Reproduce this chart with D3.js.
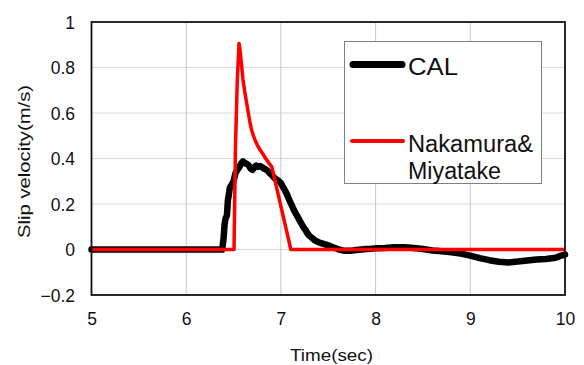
<!DOCTYPE html>
<html>
<head>
<meta charset="utf-8">
<script src="https://cdn.jsdelivr.net/npm/d3@7"></script>
<style>
  html, body { margin: 0; padding: 0; background: #fff; }
  svg { display: block; font-family: "Liberation Sans", Arial, sans-serif; }
</style>
</head>
<body>
<svg id="chart" width="584" height="365"></svg>
<script>
// Time axis ticks (sec) and slip-velocity ticks (m/s)
const xTicks = [5, 6, 7, 8, 9, 10];
const yTicks = [-0.2, 0, 0.2, 0.4, 0.6, 0.8, 1];

// Computed slip velocity (CAL): [time, velocity]
const calSeries = [
  [5.0, 0], [6.38, 0], [6.395, 0.05], [6.405, 0.11], [6.415, 0.135], [6.43, 0.15],
  [6.44, 0.215], [6.45, 0.24], [6.46, 0.27], [6.48, 0.285], [6.50, 0.30],
  [6.52, 0.335], [6.54, 0.35], [6.56, 0.362], [6.58, 0.378], [6.60, 0.387],
  [6.62, 0.38], [6.64, 0.376], [6.66, 0.37], [6.68, 0.356], [6.70, 0.35],
  [6.72, 0.362], [6.74, 0.369], [6.76, 0.363], [6.78, 0.367], [6.80, 0.362],
  [6.82, 0.356], [6.84, 0.352], [6.86, 0.346], [6.88, 0.336], [6.90, 0.329],
  [6.92, 0.32], [6.94, 0.311], [6.96, 0.306], [6.98, 0.30], [7.00, 0.292],
  [7.02, 0.276], [7.04, 0.262], [7.06, 0.246], [7.08, 0.226], [7.10, 0.207],
  [7.12, 0.19], [7.14, 0.171], [7.16, 0.156], [7.18, 0.141], [7.20, 0.126],
  [7.22, 0.111], [7.24, 0.096], [7.26, 0.086], [7.28, 0.071], [7.30, 0.061],
  [7.33, 0.05], [7.36, 0.04], [7.40, 0.031], [7.45, 0.025], [7.50, 0.018],
  [7.55, 0.01], [7.60, 0.002], [7.65, -0.004], [7.70, -0.006], [7.75, -0.005],
  [7.80, -0.002], [7.85, 0.0], [7.90, 0.002], [7.95, 0.003], [8.0, 0.005],
  [8.1, 0.007], [8.2, 0.01], [8.3, 0.01], [8.4, 0.007], [8.5, 0.002],
  [8.6, -0.004], [8.7, -0.008], [8.8, -0.012], [8.9, -0.018], [9.0, -0.027],
  [9.1, -0.038], [9.2, -0.047], [9.3, -0.054], [9.4, -0.057], [9.5, -0.053],
  [9.6, -0.048], [9.7, -0.044], [9.8, -0.042], [9.9, -0.036], [9.95, -0.028],
  [10.0, -0.022]
];

// Nakamura & Miyatake slip-velocity function: [time, velocity]
const nmSeries = [
  [5.0, 0], [6.505, 0], [6.52, 0.45], [6.54, 0.75], [6.558, 0.906],
  [6.565, 0.89], [6.575, 0.85], [6.586, 0.804], [6.60, 0.745], [6.621, 0.687],
  [6.64, 0.64], [6.656, 0.60], [6.673, 0.56], [6.69, 0.526], [6.71, 0.50],
  [6.73, 0.478], [6.75, 0.46], [6.78, 0.438], [6.81, 0.42], [6.84, 0.40],
  [6.87, 0.382], [6.905, 0.362], [7.105, 0], [10.0, 0]
];

const seriesNames = ["CAL", "Nakamura&", "Miyatake"];
const xTitle = "Time(sec)";
const yTitle = "Slip velocity(m/s)";

const svg = d3.select("#chart");
const plot = { left: 91.5, right: 565, top: 22, bottom: 295 };

const x = d3.scaleLinear().domain([5, 10]).range([plot.left, plot.right]);
const y = d3.scaleLinear().domain([-0.2, 1]).range([plot.bottom, plot.top]);

// Gridlines
svg.append("g").selectAll("line")
  .data(yTicks.filter(d => d > -0.2 && d < 1))
  .join("line")
  .attr("x1", plot.left).attr("x2", plot.right)
  .attr("y1", d => y(d)).attr("y2", d => y(d))
  .attr("stroke", "#d9d9d9").attr("stroke-width", 1);

svg.append("g").selectAll("line")
  .data(xTicks.filter(d => d > 5 && d < 10))
  .join("line")
  .attr("x1", d => x(d)).attr("x2", d => x(d))
  .attr("y1", plot.top).attr("y2", plot.bottom)
  .attr("stroke", "#c6c6c6").attr("stroke-width", 1);

// Axes (labels only; frame drawn separately)
const xAxis = d3.axisBottom(x).tickValues(xTicks).tickSize(0).tickPadding(0).tickFormat(d3.format("d"));
const yAxis = d3.axisLeft(y).tickValues(yTicks).tickSize(0).tickPadding(0)
  .tickFormat(d => d === 0 ? "0" : d === 1 ? "1" : d3.format(".1f")(d).replace("-", "\u2212"));

const gx = svg.append("g").attr("transform", `translate(0,${plot.bottom})`).call(xAxis);
gx.select(".domain").remove();
gx.selectAll("text")
  .attr("y", 30).attr("dy", null)
  .attr("font-size", 17.5).attr("font-family", "Liberation Sans, Arial, sans-serif")
  .attr("fill", "#111");

const gy = svg.append("g").attr("transform", `translate(${plot.left},0)`).call(yAxis);
gy.select(".domain").remove();
gy.selectAll("text")
  .attr("x", -16.5).attr("dy", "0.37em")
  .attr("font-size", 17.5).attr("font-family", "Liberation Sans, Arial, sans-serif")
  .attr("fill", "#111");

// Series lines
const line = d3.line().x(d => x(d[0])).y(d => y(d[1]));

svg.append("path")
  .datum(calSeries)
  .attr("d", line)
  .attr("fill", "none")
  .attr("stroke", "#000")
  .attr("stroke-width", 6.5)
  .attr("stroke-linejoin", "round")
  .attr("stroke-linecap", "round");

svg.append("path")
  .datum(nmSeries)
  .attr("d", line)
  .attr("fill", "none")
  .attr("stroke", "#ff0000")
  .attr("stroke-width", 3.5)
  .attr("stroke-linejoin", "round");

// Plot frame
svg.append("rect")
  .attr("x", plot.left).attr("y", plot.top)
  .attr("width", plot.right - plot.left).attr("height", plot.bottom - plot.top)
  .attr("fill", "none").attr("stroke", "#111").attr("stroke-width", 1.8);

// Legend
const legend = svg.append("g");
legend.append("rect")
  .attr("x", 344.5).attr("y", 41.5).attr("width", 197).attr("height", 142)
  .attr("fill", "#fff").attr("stroke", "#808080").attr("stroke-width", 1);

legend.append("line")
  .attr("x1", 353).attr("x2", 402).attr("y1", 64.5).attr("y2", 64.5)
  .attr("stroke", "#000").attr("stroke-width", 7).attr("stroke-linecap", "round");
legend.append("line")
  .attr("x1", 352).attr("x2", 403).attr("y1", 141).attr("y2", 141)
  .attr("stroke", "#ff0000").attr("stroke-width", 4).attr("stroke-linecap", "round");

const legendText = [
  { text: seriesNames[0], y: 75, w: 50 },
  { text: seriesNames[1], y: 151.5, w: 125 },
  { text: seriesNames[2], y: 179, w: 93 }
];
legend.selectAll("text.lg")
  .data(legendText)
  .join("text")
  .attr("class", "lg")
  .attr("x", 408).attr("y", d => d.y)
  .attr("font-size", 23)
  .attr("textLength", d => d.w).attr("lengthAdjust", "spacingAndGlyphs")
  .attr("fill", "#111")
  .text(d => d.text);

// Axis titles
svg.append("text")
  .attr("x", 331.5).attr("y", 360.5)
  .attr("text-anchor", "middle")
  .attr("font-size", 17)
  .attr("textLength", 83).attr("lengthAdjust", "spacingAndGlyphs")
  .attr("fill", "#111")
  .text(xTitle);

svg.append("text")
  .attr("transform", "translate(30,161.5) rotate(-90)")
  .attr("text-anchor", "middle")
  .attr("font-size", 17)
  .attr("textLength", 153).attr("lengthAdjust", "spacingAndGlyphs")
  .attr("fill", "#111")
  .text(yTitle);
</script>
</body>
</html>
